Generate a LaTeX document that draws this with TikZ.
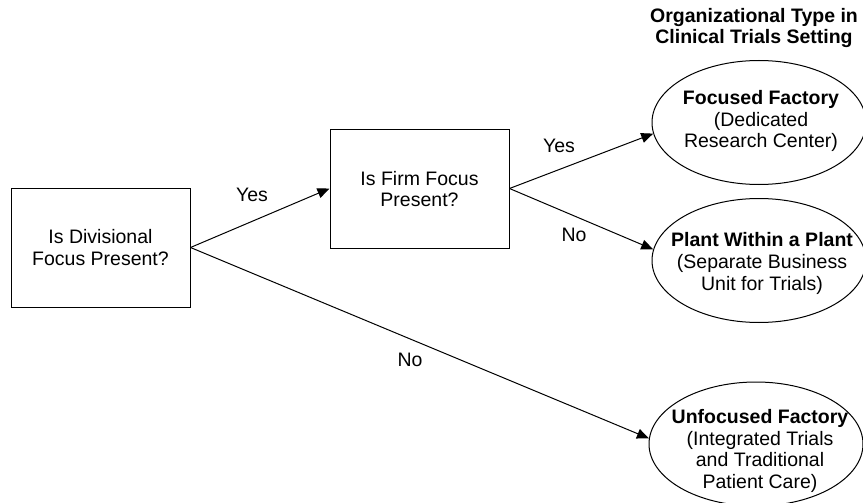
\documentclass[tikz,border=0pt]{standalone}
\usepackage{fontspec}
\setmainfont{Liberation Sans}
\usetikzlibrary{shapes.geometric,arrows.meta}
\begin{document}
\begin{tikzpicture}[x=1pt,y=-1pt,
  txt/.style={font=\fontsize{19.5}{21.7}\selectfont, align=center, inner sep=0pt},
  qbox/.style={draw, line width=1pt, minimum width=179pt, minimum height=119pt, inner sep=0pt},
  oval/.style={draw, ellipse, line width=1pt, minimum width=214pt, minimum height=124pt, inner sep=0pt},
  conn/.style={line width=1pt, -{Triangle[length=12pt,width=10pt]}},
  lbl/.style={font=\fontsize{19.5}{21.7}\selectfont, inner sep=0pt}]
\useasboundingbox (0,0) rectangle (863,503);
% title
\node[txt, font=\fontsize{19.5}{21.7}\selectfont\bfseries] (title) at (754,28) {Organizational Type in\\Clinical Trials Setting};
% question boxes
\node[qbox] (b1) at (100.5,247.5) {};
\node[txt] (b1t) at (100.5,247.5) {Is Divisional\\Focus Present?};
\node[qbox] (b2) at (419.5,188.5) {};
\node[txt] (b2t) at (419.5,189) {Is Firm Focus\\Present?};
% outcome ellipses
\node[oval] (e1) at (759,122.5) {};
\node[txt] (e1t) at (761,121) {\textbf{Focused Factory}\\(Dedicated\\Research Center)};
\node[oval] (e2) at (759,260.5) {};
\node[txt] (e2t) at (762,263.5) {\textbf{Plant Within a Plant}\\(Separate Business\\Unit for Trials)};
\node[oval] (e3) at (756,444) {};
\node[txt] (e3t) at (760,451) {\textbf{Unfocused Factory}\\(Integrated Trials\\and Traditional\\Patient Care)};
% connectors
\draw[conn] (b1.east) -- (b2.west);
\draw[conn] (b2.east) -- (e1.186);
\draw[conn] (b2.east) -- (e2.174);
\draw[conn] (b1.east) -- (e3.177);
% labels
\node[lbl] (l1) at (252,195) {Yes};
\node[lbl] (l2) at (559,146) {Yes};
\node[lbl] (l3) at (574,235) {No};
\node[lbl] (l4) at (410,360) {No};
\end{tikzpicture}
\end{document}
